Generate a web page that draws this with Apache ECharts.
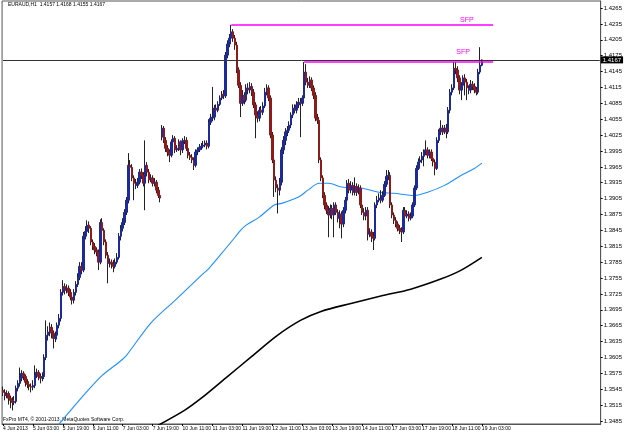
<!DOCTYPE html>
<html><head><meta charset="utf-8">
<script src="https://cdn.jsdelivr.net/npm/echarts@6/dist/echarts.min.js"></script>
<style>html,body{margin:0;padding:0;background:#fff}#c{width:625px;height:433px}</style>
</head><body><div id="c"></div>
<script>
// EURAUD H1 candles (bar 0 = 4 Jun 2013 11:00, one bar per hour, weekend skipped)
const opens = [
1.3543,1.3539,1.3533,1.3537,1.3528,1.3524,1.3520,1.3522,1.3547,1.3556,
1.3566,1.3575,1.3569,1.3558,1.3554,1.3550,1.3549,1.3552,1.3571,1.3577,
1.3569,1.3566,1.3569,1.3605,1.3647,1.3653,1.3662,1.3651,1.3641,1.3647,
1.3666,1.3679,1.3728,1.3739,1.3732,1.3736,1.3728,1.3719,1.3713,1.3728,
1.3743,1.3756,1.3777,1.3770,1.3834,1.3843,1.3855,1.3849,1.3823,1.3815,
1.3808,1.3804,1.3785,1.3860,1.3845,1.3823,1.3798,1.3783,1.3785,1.3781,
1.3777,1.3785,1.3794,1.3834,1.3849,1.3860,1.3879,1.3902,1.3968,1.3964,
1.3944,1.3934,1.3930,1.3936,1.3955,1.3949,1.3934,1.3968,1.3955,1.3940,
1.3944,1.3934,1.3936,1.3921,1.3911,1.4021,1.4038,1.4015,1.4000,1.3993,
1.3987,1.4012,1.4019,1.3997,1.4000,1.4012,1.3997,1.4014,1.4015,1.4000,
1.3987,1.3983,1.3978,1.3968,1.3993,1.3997,1.4002,1.4004,1.4006,1.4010,
1.4004,1.4049,1.4057,1.4059,1.4076,1.4072,1.4083,1.4095,1.4102,1.4099,
1.4176,1.4197,1.4208,1.4220,1.4208,1.4195,1.4148,1.4119,1.4085,1.4100,
1.4091,1.4114,1.4110,1.4117,1.4106,1.4082,1.4063,1.4057,1.4072,1.4068,
1.4080,1.4106,1.4114,1.4095,1.4025,1.3978,1.3940,1.3925,1.3921,1.3936,
1.3997,1.4015,1.4031,1.4034,1.4044,1.4063,1.4076,1.4072,1.4082,1.4087,
1.4085,1.4095,1.4144,1.4125,1.4119,1.4129,1.4114,1.4100,1.4057,1.4053,
1.3978,1.3944,1.3911,1.3893,1.3883,1.3874,1.3887,1.3874,1.3893,1.3879,
1.3868,1.3876,1.3857,1.3883,1.3902,1.3934,1.3921,1.3930,1.3917,1.3928,
1.3917,1.3925,1.3893,1.3879,1.3872,1.3883,1.3838,1.3842,1.3834,1.3830,
1.3893,1.3902,1.3906,1.3902,1.3911,1.3932,1.3947,1.3949,1.3893,1.3874,
1.3864,1.3857,1.3849,1.3845,1.3842,1.3883,1.3872,1.3876,1.3868,1.3872,
1.3893,1.3925,1.3962,1.3974,1.3978,1.3985,1.3993,1.3997,1.3987,1.3993,
1.3981,1.3974,1.3962,1.4015,1.4031,1.4038,1.4031,1.4038,1.4031,1.4072,
1.4106,1.4114,1.4151,1.4148,1.4133,1.4110,1.4119,1.4133,1.4125,1.4114,
1.4110,1.4121,1.4117,1.4110,1.4106,1.4144,1.4157];
const closes = [
1.3539,1.3533,1.3537,1.3528,1.3524,1.3520,1.3522,1.3547,1.3556,1.3566,
1.3575,1.3569,1.3558,1.3554,1.3550,1.3549,1.3552,1.3571,1.3577,1.3569,
1.3566,1.3569,1.3605,1.3647,1.3653,1.3662,1.3651,1.3641,1.3647,1.3666,
1.3679,1.3728,1.3739,1.3732,1.3736,1.3728,1.3719,1.3713,1.3728,1.3743,
1.3756,1.3777,1.3770,1.3834,1.3843,1.3855,1.3849,1.3823,1.3815,1.3808,
1.3804,1.3785,1.3860,1.3845,1.3823,1.3798,1.3783,1.3785,1.3781,1.3777,
1.3785,1.3794,1.3834,1.3849,1.3860,1.3879,1.3902,1.3968,1.3964,1.3944,
1.3934,1.3930,1.3936,1.3955,1.3949,1.3934,1.3968,1.3955,1.3940,1.3944,
1.3934,1.3936,1.3921,1.3911,1.3906,1.4038,1.4015,1.4000,1.3993,1.3987,
1.4012,1.4019,1.3997,1.4000,1.4012,1.3997,1.4014,1.4015,1.4000,1.3987,
1.3983,1.3978,1.3968,1.3993,1.3997,1.4002,1.4004,1.4006,1.4010,1.4004,
1.4049,1.4057,1.4059,1.4076,1.4072,1.4083,1.4095,1.4102,1.4099,1.4176,
1.4197,1.4208,1.4220,1.4208,1.4195,1.4148,1.4119,1.4085,1.4100,1.4091,
1.4114,1.4110,1.4117,1.4106,1.4082,1.4063,1.4057,1.4072,1.4068,1.4080,
1.4106,1.4114,1.4095,1.4025,1.3978,1.3940,1.3925,1.3921,1.3936,1.3997,
1.4015,1.4031,1.4034,1.4044,1.4063,1.4076,1.4072,1.4082,1.4087,1.4085,
1.4095,1.4144,1.4125,1.4119,1.4129,1.4114,1.4100,1.4057,1.4053,1.3978,
1.3944,1.3911,1.3893,1.3883,1.3874,1.3887,1.3874,1.3893,1.3879,1.3868,
1.3876,1.3857,1.3883,1.3902,1.3934,1.3921,1.3930,1.3917,1.3928,1.3917,
1.3925,1.3893,1.3879,1.3872,1.3883,1.3838,1.3842,1.3834,1.3830,1.3893,
1.3902,1.3906,1.3902,1.3911,1.3932,1.3947,1.3949,1.3893,1.3874,1.3864,
1.3857,1.3849,1.3845,1.3842,1.3883,1.3872,1.3876,1.3868,1.3872,1.3893,
1.3925,1.3962,1.3974,1.3978,1.3985,1.3993,1.3997,1.3987,1.3993,1.3981,
1.3974,1.3962,1.4015,1.4031,1.4038,1.4031,1.4038,1.4031,1.4072,1.4106,
1.4114,1.4151,1.4148,1.4133,1.4110,1.4119,1.4133,1.4125,1.4114,1.4110,
1.4121,1.4117,1.4110,1.4106,1.4144,1.4157,1.4167];
const highs = [
1.3550,1.3545,1.3543,1.3541,1.3533,1.3530,1.3532,1.3552,1.3562,1.3586,
1.3581,1.3579,1.3573,1.3564,1.3560,1.3556,1.3562,1.3590,1.3584,1.3581,
1.3575,1.3577,1.3611,1.3675,1.3664,1.3671,1.3668,1.3656,1.3654,1.3671,
1.3687,1.3734,1.3751,1.3745,1.3743,1.3741,1.3734,1.3726,1.3734,1.3749,
1.3764,1.3785,1.3785,1.3842,1.3853,1.3864,1.3862,1.3853,1.3828,1.3821,
1.3813,1.3809,1.3866,1.3868,1.3849,1.3828,1.3804,1.3792,1.3790,1.3789,
1.3792,1.3802,1.3840,1.3855,1.3868,1.3885,1.3908,1.3991,1.3978,1.3970,
1.3949,1.3942,1.3944,1.3961,1.3962,1.3955,1.4015,1.3974,1.3961,1.3951,
1.3949,1.3944,1.3940,1.3927,1.3917,1.4044,1.4042,1.4021,1.4006,1.3998,
1.4017,1.4025,1.4023,1.4006,1.4017,1.4015,1.4019,1.4023,1.4021,1.4006,
1.3993,1.3989,1.3983,1.3998,1.4002,1.4008,1.4010,1.4014,1.4015,1.4015,
1.4055,1.4065,1.4116,1.4082,1.4083,1.4089,1.4100,1.4108,1.4110,1.4182,
1.4204,1.4216,1.4233,1.4225,1.4214,1.4201,1.4153,1.4125,1.4110,1.4106,
1.4121,1.4123,1.4125,1.4123,1.4112,1.4087,1.4070,1.4078,1.4080,1.4087,
1.4114,1.4121,1.4119,1.4100,1.4031,1.3983,1.3947,1.3932,1.3944,1.4002,
1.4023,1.4038,1.4042,1.4051,1.4068,1.4083,1.4083,1.4089,1.4095,1.4095,
1.4100,1.4163,1.4159,1.4133,1.4136,1.4134,1.4119,1.4106,1.4065,1.4059,
1.3983,1.3949,1.3917,1.3898,1.3891,1.3894,1.3893,1.3898,1.3898,1.3885,
1.3883,1.3881,1.3889,1.3908,1.3940,1.3942,1.3938,1.3936,1.3945,1.3934,
1.3932,1.3930,1.3898,1.3887,1.3889,1.3889,1.3849,1.3847,1.3842,1.3898,
1.3910,1.3915,1.3921,1.3919,1.3938,1.3959,1.3959,1.3955,1.3898,1.3879,
1.3870,1.3862,1.3855,1.3851,1.3889,1.3889,1.3883,1.3881,1.3879,1.3898,
1.3930,1.3968,1.3981,1.3985,1.3993,1.3998,1.4015,1.4002,1.3998,1.3998,
1.3987,1.3979,1.4021,1.4036,1.4053,1.4044,1.4044,1.4046,1.4078,1.4112,
1.4121,1.4163,1.4163,1.4155,1.4138,1.4125,1.4138,1.4140,1.4131,1.4119,
1.4129,1.4127,1.4123,1.4116,1.4150,1.4191,1.4168];
const lows = [
1.3532,1.3524,1.3528,1.3516,1.3509,1.3505,1.3515,1.3518,1.3541,1.3550,
1.3560,1.3562,1.3550,1.3547,1.3543,1.3539,1.3543,1.3547,1.3566,1.3562,
1.3556,1.3560,1.3564,1.3600,1.3637,1.3645,1.3641,1.3622,1.3634,1.3639,
1.3660,1.3673,1.3722,1.3724,1.3726,1.3721,1.3713,1.3705,1.3707,1.3722,
1.3738,1.3751,1.3762,1.3766,1.3828,1.3838,1.3840,1.3817,1.3808,1.3800,
1.3796,1.3770,1.3781,1.3838,1.3817,1.3792,1.3745,1.3775,1.3773,1.3766,
1.3773,1.3781,1.3790,1.3826,1.3843,1.3855,1.3874,1.3896,1.3959,1.3938,
1.3902,1.3923,1.3925,1.3932,1.3942,1.3928,1.3883,1.3947,1.3934,1.3936,
1.3928,1.3928,1.3915,1.3906,1.3898,1.4015,1.4010,1.3993,1.3985,1.3974,
1.3983,1.4006,1.3991,1.3993,1.3995,1.3987,1.3991,1.4008,1.3995,1.3981,
1.3978,1.3972,1.3959,1.3964,1.3987,1.3993,1.3997,1.4000,1.4002,1.3998,
1.4000,1.4044,1.4051,1.4053,1.4066,1.4068,1.4080,1.4091,1.4093,1.4095,
1.4170,1.4191,1.4203,1.4201,1.4186,1.4142,1.4114,1.4059,1.4080,1.4083,
1.4087,1.4102,1.4104,1.4099,1.4076,1.4019,1.4049,1.4051,1.4061,1.4063,
1.4076,1.4100,1.4089,1.4019,1.3972,1.3908,1.3917,1.3877,1.3911,1.3930,
1.3989,1.4006,1.4023,1.4029,1.4038,1.4057,1.4066,1.4066,1.4076,1.4021,
1.4080,1.4091,1.4119,1.4114,1.4114,1.4108,1.4093,1.4051,1.4046,1.3972,
1.3938,1.3906,1.3885,1.3876,1.3832,1.3868,1.3866,1.3832,1.3874,1.3860,
1.3849,1.3830,1.3851,1.3877,1.3896,1.3915,1.3915,1.3911,1.3911,1.3910,
1.3913,1.3887,1.3874,1.3864,1.3864,1.3826,1.3832,1.3823,1.3808,1.3826,
1.3887,1.3898,1.3896,1.3898,1.3908,1.3927,1.3940,1.3887,1.3868,1.3857,
1.3851,1.3843,1.3838,1.3823,1.3838,1.3866,1.3868,1.3862,1.3864,1.3868,
1.3889,1.3921,1.3959,1.3968,1.3972,1.3966,1.3987,1.3981,1.3981,1.3976,
1.3966,1.3949,1.3959,1.4010,1.4025,1.4025,1.4027,1.4019,1.4027,1.4066,
1.4100,1.4110,1.4140,1.4125,1.4102,1.4091,1.4114,1.4100,1.4091,1.4102,
1.4104,1.4110,1.4104,1.4100,1.4102,1.4140,1.4155];

// Moving averages: [bar index, value]
const maBlue = [[28,1.3471],[34,1.3496],[44,1.3537],[53,1.3571],[62,1.3596],[66,1.3609],[79,1.3670],
  [92,1.3713],[106,1.3760],[110,1.3773],[117,1.3802],[124,1.3832],[127,1.3845],[130,1.3855],[137,1.3870],
  [145,1.3893],[149,1.3896],[158,1.3908],[163,1.3921],[169,1.3934],[174,1.3934],[181,1.3927],[191,1.3925],
  [194,1.3923],[201,1.3917],[209,1.3915],[220,1.3911],[227,1.3917],[236,1.3930],[245,1.3949],[252,1.3962],[256,1.3972]];
const maBlack = [[82,1.3475],[97,1.3505],[106,1.3528],[119,1.3566],[133,1.3607],[146,1.3645],[159,1.3675],
  [170,1.3692],[186,1.3707],[202,1.3721],[218,1.3734],[234,1.3753],[245,1.3770],[256,1.3794]];

// Axis labels
const timeLabels = ['4 Jun 2013','5 Jun 03:00','5 Jun 19:00','6 Jun 11:00','7 Jun 03:00','7 Jun 19:00',
  '10 Jun 11:00','11 Jun 03:00','11 Jun 19:00','12 Jun 11:00','13 Jun 03:00','13 Jun 19:00','14 Jun 11:00',
  '17 Jun 03:00','17 Jun 19:00','18 Jun 11:00','19 Jun 03:00'];
const barsPerLabel = 16;
const slotCount = 320;
const priceTicks = [1.3485,1.3515,1.3545,1.3575,1.3605,1.3635,1.3665,1.3695,1.3725,1.3755,1.3785,1.3815,
  1.3845,1.3875,1.3905,1.3935,1.3965,1.3995,1.4025,1.4055,1.4085,1.4115,1.4145,1.4175,1.4205,1.4235,1.4265];

// Annotations
const lastPrice = 1.4167;
const sfpLines = [{from:122, to:262, price:1.4233},{from:161, to:262, price:1.4163}];
const sfpTexts = [{bar:248, price:1.4243},{bar:246, price:1.4181}];
const titleText = 'EURAUD,H1  1.4157 1.4168 1.4155 1.4167';
const footerText = 'FxPro MT4, \u00A9 2001-2013, MetaQuotes Software Corp.';

const cats = [];
for (let i = 0; i < slotCount; i++) cats.push(String(i));
const showAt = i => i % barsPerLabel === 0 && i / barsPerLabel < timeLabels.length;

const wickData = opens.map((o, i) => [o, closes[i], lows[i], highs[i]]);
const bodyData = opens.map((o, i) => [o, closes[i], Math.min(o, closes[i]), Math.max(o, closes[i])]);

const FONT = 'Liberation Sans';
const chart = echarts.init(document.getElementById('c'), null, {renderer: 'canvas'});
chart.setOption({
  animation: false,
  backgroundColor: '#ffffff',
  grid: {left: 2, right: 24, top: 1, bottom: 9, show: true, borderColor: '#555', borderWidth: 1},
  xAxis: {
    type: 'category', data: cats, boundaryGap: true,
    axisLine: {show: true, lineStyle: {color: '#555', width: 1}},
    axisTick: {show: true, alignWithLabel: true, length: 2, interval: (i) => showAt(i), lineStyle: {color: '#000'}},
    axisLabel: {interval: (i) => showAt(i), formatter: (v, i) => showAt(i) ? timeLabels[i / barsPerLabel] : '',
      fontSize: 5, fontFamily: FONT, color: '#000', align: 'left', margin: 2},
    splitLine: {show: false}
  },
  yAxis: {
    type: 'value', position: 'right', min: 1.347933, max: 1.427822,
    axisLine: {show: true, lineStyle: {color: '#555', width: 1}},
    axisTick: {show: true, length: 2, customValues: priceTicks, lineStyle: {color: '#000'}},
    axisLabel: {customValues: priceTicks, formatter: v => v.toFixed(4), fontSize: 6, fontFamily: FONT, color: '#000', margin: 3},
    splitLine: {show: false}
  },
  graphic: [
    {type: 'text', left: 8, top: 2, style: {text: titleText, fontSize: 5, fontFamily: FONT, fill: '#000'}},
    {type: 'text', left: 3, top: 417, style: {text: footerText, fontSize: 5, fontFamily: FONT, fill: '#000'}}
  ],
  series: [
    {type: 'line', data: maBlack, symbol: 'none', smooth: 0.3, silent: true,
      lineStyle: {color: '#000', width: 1.6}, z: 2},
    {type: 'line', data: maBlue, symbol: 'none', smooth: 0.3, silent: true,
      lineStyle: {color: '#1e90ff', width: 1.1}, z: 2},
    {type: 'candlestick', data: wickData, barWidth: 1, silent: true, z: 3,
      itemStyle: {color: '#222', color0: '#222', borderColor: '#222', borderColor0: '#222', borderWidth: 1},
      markLine: {
        symbol: ['none', 'none'], silent: true, animation: false,
        data: [
          [
            {coord: [0, lastPrice], lineStyle: {color: '#333', width: 1, type: 'solid'},
              label: {show: true, position: 'end', formatter: () => lastPrice.toFixed(4), backgroundColor: '#000',
                color: '#fff', fontSize: 6, fontFamily: FONT, padding: [1, 2, 0, 2], distance: 1}},
            {coord: [slotCount - 1, lastPrice]}
          ],
          ...sfpLines.map(s => [
            {coord: [s.from, s.price], lineStyle: {color: '#ff00ff', width: 1.5, type: 'solid'}, label: {show: false}},
            {coord: [s.to, s.price]}
          ])
        ]
      },
      markPoint: {
        symbol: 'circle', symbolSize: 0, silent: true, animation: false,
        label: {show: true, position: 'inside', formatter: 'SFP', color: '#ff00ff', fontSize: 7, fontFamily: FONT},
        data: sfpTexts.map(s => ({coord: [s.bar, s.price]}))
      }
    },
    {type: 'candlestick', data: bodyData, barWidth: 2, silent: true, z: 4,
      itemStyle: {color: '#1c2a9c', color0: '#8e1a1a', borderColor: '#1c2a9c', borderColor0: '#8e1a1a', borderWidth: 1}}
  ]
});
</script></body></html>
